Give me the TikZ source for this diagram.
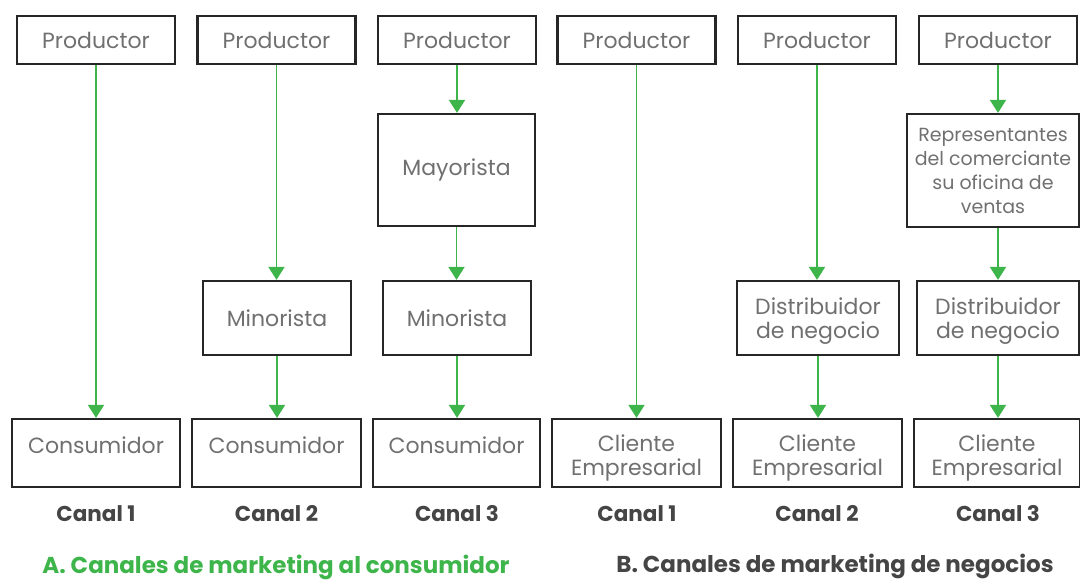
\documentclass[tikz,border=0pt]{standalone}
\usepackage{fontspec}
\setmainfont{Poppins}
\usetikzlibrary{arrows.meta}
\definecolor{gtext}{HTML}{707070}
\definecolor{dtext}{HTML}{454545}
\definecolor{grn}{HTML}{3DB54A}
\definecolor{bord}{HTML}{262626}
\newcommand{\upby}[1]{\raisebox{0pt}[\height][\dimexpr\depth+16pt\relax]{#1}}
\tikzset{
  box/.style={draw=bord,line width=2.2pt,text=gtext,font=\fontsize{22}{24}\selectfont,align=center,inner sep=1pt},
  arr/.style={draw=grn,line width=1.8pt,-{Triangle[length=13pt,width=16pt]}},
  canal/.style={text=dtext,font=\fontsize{21.5}{24}\selectfont\bfseries},
}
\begin{document}
\begin{tikzpicture}[x=1pt,y=-1pt]
\useasboundingbox (0,0) rectangle (1080,580);
% top row
\foreach \n/\x in {p1/96,p2/276.5,p3/457,p4/636.5,p5/817,p6/998}{
  \node[box,minimum width=158pt,minimum height=48pt] (\n) at (\x,40) {Productor};
}
\node[box,minimum width=157pt,minimum height=112pt] (may) at (456.5,170) {Mayorista};
\node[box,font=\fontsize{19}{24}\selectfont,minimum width=172pt,minimum height=113pt] (rep) at (993,170.5) {Representantes\\del comerciante\\su oficina de\\ventas};
\node[box,minimum width=148pt,minimum height=74pt] (min2) at (277,318) {Minorista};
\node[box,minimum width=148pt,minimum height=74pt] (min3) at (457,318) {Minorista};
\node[box,minimum width=162pt,minimum height=74pt] (dis5) at (818,318) {\rule{0pt}{22.5pt}Distribuidor\\de negocio};
\node[box,minimum width=162pt,minimum height=74pt] (dis6) at (998,318) {\rule{0pt}{22.5pt}Distribuidor\\de negocio};
% bottom row
\node[box,minimum width=168pt,minimum height=68pt] (c1) at (96,453) {\upby{Consumidor}};
\node[box,minimum width=169pt,minimum height=68pt] (c2) at (276.5,453) {\upby{Consumidor}};
\node[box,minimum width=167pt,minimum height=68pt] (c3) at (456.5,453) {\upby{Consumidor}};
\node[box,minimum width=169pt,minimum height=68pt] (e4) at (636.5,453) {\rule{0pt}{26pt}Cliente\\Empresarial};
\node[box,minimum width=169pt,minimum height=68pt] (e5) at (817.5,453) {\rule{0pt}{26pt}Cliente\\Empresarial};
\node[box,minimum width=166pt,minimum height=68pt] (e6) at (997,453) {\rule{0pt}{26pt}Cliente\\Empresarial};
% arrows
\draw[arr] (p1) -- (p1 |- c1.north);
\draw[arr] (p2) -- (p2 |- min2.north);
\draw[arr] (min2) -- (min2 |- c2.north);
\draw[arr] (p3) -- (p3 |- may.north);
\draw[arr] (may) -- (may |- min3.north);
\draw[arr] (min3) -- (min3 |- c3.north);
\draw[arr] (p4) -- (p4 |- e4.north);
\draw[arr] (p5) -- (p5 |- dis5.north);
\draw[arr] (dis5) -- (dis5 |- e5.north);
\draw[arr] (p6) -- (p6 |- rep.north);
\draw[arr] (p6 |- rep.south) -- (p6 |- dis6.north);
\draw[arr] (dis6) -- (dis6 |- e6.north);
% canal labels
\node[canal] (k1) at (96,514) {Canal 1};
\node[canal] (k2) at (276.5,514) {Canal 2};
\node[canal] (k3) at (457,514) {Canal 3};
\node[canal] (k4) at (637,514) {Canal 1};
\node[canal] (k5) at (817,514) {Canal 2};
\node[canal] (k6) at (998,514) {Canal 3};
\node[text=grn,font=\fontsize{23}{24}\selectfont\bfseries] (ta) at (276,567) {A. Canales de marketing al consumidor};
\node[text=dtext,font=\fontsize{23}{24}\selectfont\bfseries] (tb) at (835,566) {B. Canales de marketing de negocios};
\end{tikzpicture}
\end{document}
